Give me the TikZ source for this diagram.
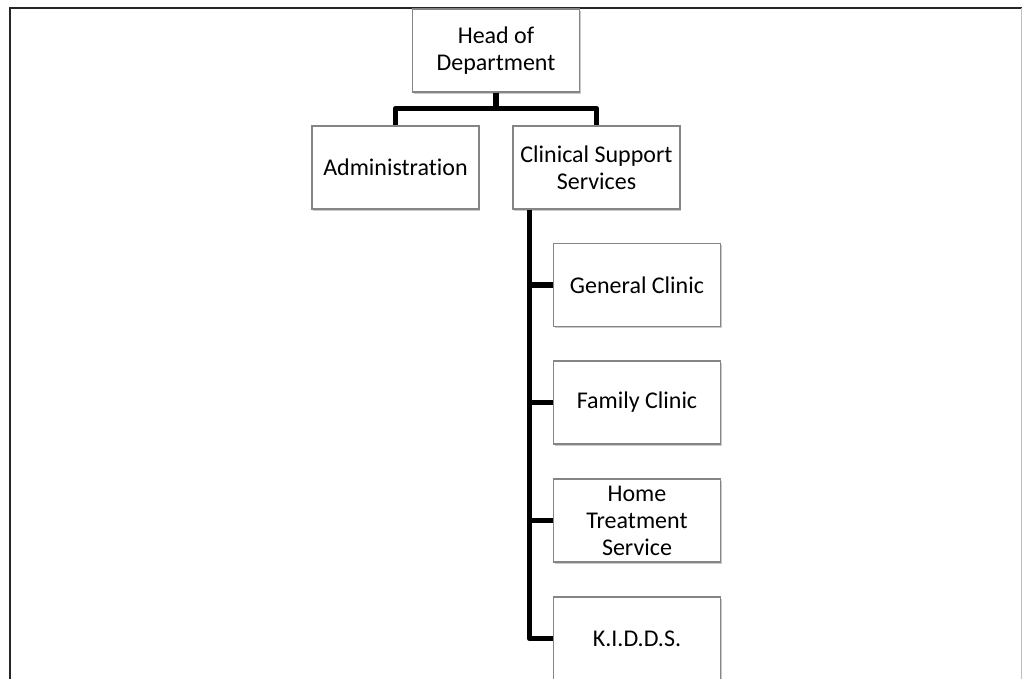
\documentclass[tikz,border=0pt]{standalone}
\usepackage{fontspec}
\setmainfont{Carlito}[Ligatures=NoCommon]
\usetikzlibrary{shadows}
\begin{document}
\begin{tikzpicture}[x=1pt,y=-1pt,
  unit/.style={draw=black!48, line width=1.1pt, fill=white,
    minimum width=167pt, minimum height=83pt, inner sep=2pt,
    align=center, text=black,
    font=\fontsize{24}{27}\selectfont,
    drop shadow={shadow xshift=1.2pt, shadow yshift=-1.6pt, opacity=0.35, fill=black!60}},
  link/.style={line width=5.5pt, line join=round, draw=black}]
\useasboundingbox (0,0) rectangle (1023,679);
% page frame
\draw[line width=2.4pt, black!85] (10,679) -- (10,8) -- (1021.5,8);
\draw[line width=1pt, black!25] (1021.5,8) -- (1021.5,679);
% units
\node[unit] (h) at (496,50.5) {Head of\\Department};
\node[unit] (a) at (395.5,167.5) {Administration};
\node[unit] (c) at (596.5,167.5) {Clinical Support\\Services};
\node[unit] (g) at (637,285) {General Clinic};
\node[unit] (f) at (637,402.5) {Family Clinic};
\node[unit] (m) at (637,520.5) {Home\\Treatment\\Service};
\node[unit] (k) at (637,638.5) {K.I.D.D.S.};
% connectors
\draw[link] (h.south) -- ++(0,16) -| (a.north);
\draw[link] (h.south) -- ++(0,16) -| (c.north);
\coordinate (t) at ([xshift=17pt]c.south west);
\draw[link] (t) |- (k.west);
\draw[link] (g.west) -- (g.west -| t);
\draw[link] (f.west) -- (f.west -| t);
\draw[link] (m.west) -- (m.west -| t);
\end{tikzpicture}
\end{document}
